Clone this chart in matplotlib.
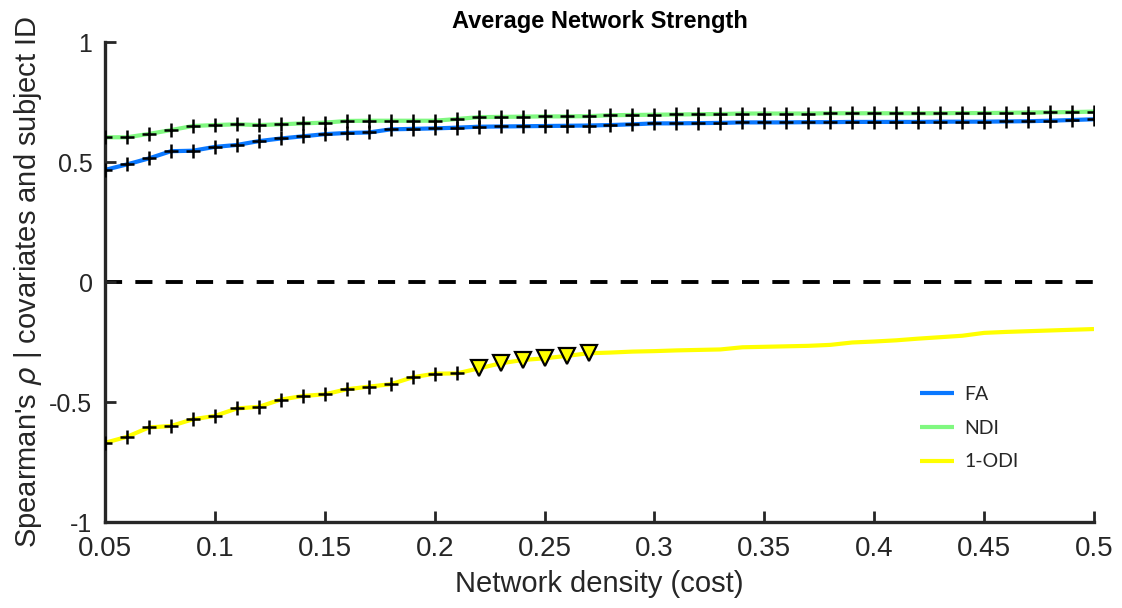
import matplotlib
matplotlib.use("Agg")
import matplotlib.pyplot as plt
from matplotlib import font_manager as fm

density = [0.05, 0.06, 0.07, 0.08, 0.09, 0.10, 0.11, 0.12, 0.13, 0.14,
           0.15, 0.16, 0.17, 0.18, 0.19, 0.20, 0.21, 0.22, 0.23, 0.24,
           0.25, 0.26, 0.27, 0.28, 0.29, 0.30, 0.31, 0.32, 0.33, 0.34,
           0.35, 0.36, 0.37, 0.38, 0.39, 0.40, 0.41, 0.42, 0.43, 0.44,
           0.45, 0.46, 0.47, 0.48, 0.49, 0.50]

fa = [0.467, 0.490, 0.515, 0.545, 0.547, 0.563, 0.571, 0.587, 0.598, 0.607,
      0.616, 0.621, 0.623, 0.636, 0.638, 0.640, 0.643, 0.647, 0.648, 0.649,
      0.650, 0.651, 0.652, 0.654, 0.657, 0.661, 0.661, 0.662, 0.663, 0.665,
      0.665, 0.665, 0.666, 0.666, 0.667, 0.667, 0.667, 0.667, 0.668, 0.668,
      0.668, 0.669, 0.670, 0.672, 0.675, 0.678]

ndi = [0.603, 0.603, 0.617, 0.633, 0.650, 0.654, 0.657, 0.654, 0.657, 0.661,
       0.664, 0.671, 0.672, 0.672, 0.672, 0.672, 0.679, 0.687, 0.688, 0.689,
       0.690, 0.690, 0.691, 0.695, 0.696, 0.697, 0.698, 0.699, 0.700, 0.702,
       0.702, 0.702, 0.702, 0.703, 0.703, 0.703, 0.703, 0.703, 0.703, 0.704,
       0.704, 0.705, 0.706, 0.707, 0.708, 0.710]

odi = [-0.670, -0.645, -0.606, -0.600, -0.572, -0.558, -0.527, -0.520, -0.490, -0.475,
       -0.468, -0.447, -0.436, -0.426, -0.397, -0.382, -0.381, -0.360, -0.339, -0.325,
       -0.318, -0.308, -0.297, -0.294, -0.290, -0.288, -0.285, -0.283, -0.281, -0.272,
       -0.270, -0.268, -0.266, -0.262, -0.252, -0.248, -0.243, -0.236, -0.230, -0.224,
       -0.212, -0.208, -0.205, -0.202, -0.199, -0.196]

# significance marker per point: '+' significant, 'v' trend, '' none
fa_sig = ['+'] * 46
ndi_sig = ['+'] * 46
odi_sig = (['+'] * 17) + (['v'] * 6) + ([''] * 23)

series_names = ["FA", "NDI", "1-ODI"]
series_colors = ["#0a78ff", "#80f880", "#ffff00"]

xticks = [0.05, 0.1, 0.15, 0.2, 0.25, 0.3, 0.35, 0.4, 0.45, 0.5]
xticklabels = ["0.05", "0.1", "0.15", "0.2", "0.25", "0.3", "0.35", "0.4", "0.45", "0.5"]
yticks = [-1, -0.5, 0, 0.5, 1]
yticklabels = ["-1", "-0.5", "0", "0.5", "1"]

available = {f.name for f in fm.fontManager.ttflist}
narrow = "Liberation Sans Narrow" if "Liberation Sans Narrow" in available else "Liberation Sans"
regular = "Liberation Sans"
legend_font = "Lato" if "Lato" in available else "DejaVu Sans"

fig = plt.figure(figsize=(11.22, 6.08), dpi=100)
ax = fig.add_axes([105 / 1122, 1 - 522 / 608, (1094 - 105) / 1122, (522 - 42) / 608])

ax.axhline(0, color="black", lw=2.8, linestyle=(0, (4.4, 3.4)), zorder=1)

handles = []
for yv, sig, name, col in zip([fa, ndi, odi], [fa_sig, ndi_sig, odi_sig], series_names, series_colors):
    h, = ax.plot(density, yv, color=col, lw=3.0, zorder=2, label=name, solid_capstyle="butt")
    handles.append(h)
    xp = [x for x, s in zip(density, sig) if s == '+']
    yp = [y for y, s in zip(yv, sig) if s == '+']
    if xp:
        ax.plot(xp, yp, linestyle="none", marker="+", ms=10, mew=1.8, color="black", zorder=4)
    xv = [x for x, s in zip(density, sig) if s == 'v']
    yvv = [y for y, s in zip(yv, sig) if s == 'v']
    if xv:
        ax.plot(xv, yvv, linestyle="none", marker="v", ms=11, mew=1.6,
                markerfacecolor=col, markeredgecolor="black", zorder=4)

ax.set_xlim(0.05, 0.5)
ax.set_ylim(-1, 1)
ax.set_xticks(xticks)
ax.set_xticklabels(xticklabels, fontfamily=narrow, fontsize=20)
ax.set_yticks(yticks)
ax.set_yticklabels(yticklabels, fontfamily=regular, fontsize=18)

for s in ["top", "right"]:
    ax.spines[s].set_visible(False)
for s in ["left", "bottom"]:
    ax.spines[s].set_linewidth(2.4)
    ax.spines[s].set_color("#262626")
    ax.spines[s].set_capstyle("projecting")
ax.tick_params(axis="both", direction="in", length=8, width=2.0, color="#262626",
               labelcolor="#262626")
ax.tick_params(axis="x", pad=10)
ax.tick_params(axis="y", pad=9)
for t in ax.get_xticklabels() + ax.get_yticklabels():
    t.set_clip_on(False)

ax.set_xlabel("Network density (cost)", fontfamily=regular, fontsize=21, color="#262626", labelpad=6)
ax.set_ylabel("Spearman's $\\rho$ | covariates and subject ID", fontfamily=regular,
              fontsize=21, color="#262626", labelpad=4)
ax.set_title("Average Network Strength", fontfamily=narrow, fontweight="bold",
             fontsize=17, pad=10)

leg = ax.legend(handles=handles, loc="upper left", bbox_to_anchor=(797 / 989, 0.32),
                frameon=False, prop={"family": legend_font, "size": 14},
                handlelength=1.75, handletextpad=0.55, labelspacing=0.86)
for t in leg.get_texts():
    t.set_color("#262626")

fig.savefig("out.png", dpi=100, facecolor="white")
